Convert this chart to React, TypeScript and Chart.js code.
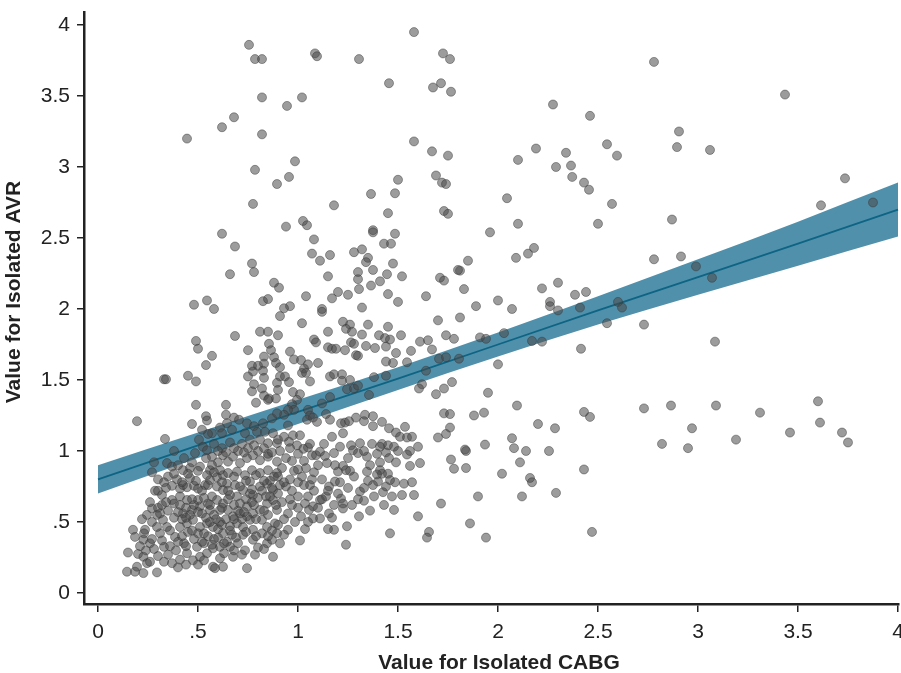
import React, { useEffect, useRef } from 'react';
import { Chart, registerables } from 'chart.js';

Chart.register(...registerables);

const xTickValues = [0, 0.5, 1, 1.5, 2, 2.5, 3, 3.5, 4];
const yTickValues = [0, 0.5, 1, 1.5, 2, 2.5, 3, 3.5, 4];
const xTitle = 'Value for Isolated CABG';
const yTitle = 'Value for Isolated AVR';

const fitX = [0, 0.5, 1, 1.5, 2, 2.5, 3, 3.5, 4];
const fitY = [0.8, 1.04, 1.275, 1.51, 1.75, 1.99, 2.225, 2.46, 2.7];
const ciUpper = [0.9, 1.13, 1.36, 1.59, 1.835, 2.09, 2.35, 2.615, 2.89];
const ciLower = [0.7, 0.95, 1.19, 1.43, 1.665, 1.89, 2.1, 2.305, 2.51];

const outlierPairs: number[][] = [
  [0.755, 3.86], [0.785, 3.76], [0.82, 3.76], [1.085, 3.8], [1.095, 3.78], [1.305, 3.76], [1.58, 3.95],
  [1.725, 3.8], [1.76, 3.76], [1.455, 3.59], [1.675, 3.56], [1.715, 3.59], [1.765, 3.53], [0.82, 3.49],
  [0.945, 3.43], [1.02, 3.49], [0.68, 3.35], [0.62, 3.28], [0.445, 3.2], [0.82, 3.23], [1.58, 3.18],
  [0.985, 3.04], [1.67, 3.11], [1.75, 3.08], [2.275, 3.44], [2.46, 3.36], [2.78, 3.74], [3.435, 3.51],
  [2.905, 3.25], [2.895, 3.14], [3.06, 3.12], [2.545, 3.16], [2.595, 3.08], [2.19, 3.13], [2.1, 3.05],
  [2.34, 3.1], [2.365, 3.01], [2.29, 3.0], [3.735, 2.92],
  [2.371, 2.93], [2.43, 2.89], [2.455, 2.84], [2.045, 2.78], [2.57, 2.74], [3.615, 2.73], [3.875, 2.75],
  [2.1, 2.6], [2.5, 2.6], [1.96, 2.54], [2.87, 2.63], [2.18, 2.43], [2.15, 2.39], [2.09, 2.36], [1.85, 2.34],
  [1.81, 2.27], [2.78, 2.35], [2.915, 2.37], [2.99, 2.3], [3.07, 2.22], [1.83, 2.14], [2.22, 2.145],
  [2.3, 2.185], [1.81, 1.94], [1.89, 2.02], [2.0, 2.06], [2.07, 2.0], [2.26, 2.05], [2.26, 2.02],
  [2.3, 1.99], [2.385, 2.1], [2.44, 2.12], [2.41, 2.01], [2.6, 2.05], [2.62, 2.01], [2.545, 1.9],
  [2.73, 1.89], [1.91, 1.8], [1.94, 1.79], [2.03, 1.83], [2.17, 1.775], [2.22, 1.77], [2.415, 1.72],
  [3.085, 1.77],
  [2.0, 1.61], [1.95, 1.41], [1.88, 1.25], [1.93, 1.27], [2.095, 1.32], [2.43, 1.275], [2.46, 1.24],
  [2.2, 1.19], [2.285, 1.16], [1.84, 1.0], [1.935, 1.045], [2.07, 1.09], [2.08, 1.02], [2.14, 1.0],
  [2.255, 1.0], [1.84, 0.88], [2.02, 0.84], [2.11, 0.92], [2.16, 0.81], [2.17, 0.78], [2.43, 0.87],
  [1.9, 0.68], [2.12, 0.68], [2.29, 0.705], [1.86, 0.49], [1.94, 0.39], [2.47, 0.43], [2.73, 1.3],
  [2.865, 1.32], [3.09, 1.32], [3.31, 1.27], [3.6, 1.35], [2.97, 1.16], [3.61, 1.2], [3.46, 1.13],
  [3.72, 1.13], [3.75, 1.06], [3.19, 1.08], [2.82, 1.05], [2.95, 1.02],
];

const upperMidPairs: number[][] = [
  [0.955, 2.93], [1.18, 2.73], [0.94, 2.58], [1.025, 2.62], [1.045, 2.59], [1.08, 2.49], [1.07, 2.39],
  [1.11, 2.34], [1.16, 2.38], [1.365, 2.81], [1.5, 2.91], [1.485, 2.815], [1.45, 2.675], [1.375, 2.555],
  [1.375, 2.54], [1.485, 2.53], [1.43, 2.46], [1.465, 2.46], [1.28, 2.4], [1.32, 2.42], [1.35, 2.36],
  [1.34, 2.33], [1.475, 2.32], [1.375, 2.275], [1.15, 2.23], [1.3, 2.26], [1.3, 2.21], [1.445, 2.245],
  [1.52, 2.23], [1.41, 2.195], [1.365, 2.165], [1.305, 2.14], [1.25, 2.1], [1.2, 2.12], [1.17, 2.075],
  [1.45, 2.105], [1.04, 2.09], [0.88, 2.185], [0.905, 2.15], [0.96, 2.02], [1.12, 2.0], [1.32, 2.01],
  [1.5, 2.05], [1.69, 2.94], [1.72, 2.89], [1.74, 2.88], [1.73, 2.69], [1.75, 2.67], [1.8, 2.275],
  [1.71, 2.22], [1.73, 2.2], [1.64, 2.09],
  [0.775, 2.74], [0.62, 2.53], [0.685, 2.44], [0.77, 2.32], [0.78, 2.26], [0.66, 2.245], [0.48, 2.03],
  [0.545, 2.06], [0.58, 2.0], [0.825, 2.055], [0.85, 2.07], [0.93, 2.005], [0.91, 1.95], [0.685, 1.81],
  [0.81, 1.84], [0.85, 1.84], [0.9, 1.815], [0.49, 1.775], [0.5, 1.72], [0.57, 1.67], [0.54, 1.605],
  [0.75, 1.71], [0.855, 1.755], [0.865, 1.71], [0.83, 1.665], [0.88, 1.66], [0.89, 1.62], [0.77, 1.6],
  [0.8, 1.6], [0.83, 1.615], [0.775, 1.56], [0.825, 1.565], [0.83, 1.515], [0.75, 1.525], [0.33, 1.505],
  [0.34, 1.505], [0.45, 1.53], [0.49, 1.49], [0.91, 1.525], [0.895, 1.48], [0.9, 1.43], [0.78, 1.47],
  [0.77, 1.42], [0.82, 1.44], [0.83, 1.39], [0.855, 1.37], [0.89, 1.37], [0.49, 1.325], [0.64, 1.325],
  [0.79, 1.34], [0.785, 2.98], [0.895, 2.88],
];

const middlePairs: number[][] = [
  [1.12, 1.98], [1.02, 1.9], [1.225, 1.91], [1.26, 1.89], [1.24, 1.86], [1.27, 1.84], [1.35, 1.89],
  [1.45, 1.875], [1.7, 1.92], [1.15, 1.84], [1.15, 1.73], [1.17, 1.72], [1.19, 1.72], [1.08, 1.785],
  [1.09, 1.765], [1.32, 1.82], [1.265, 1.765], [1.28, 1.755], [1.405, 1.815], [1.435, 1.795], [1.46, 1.785],
  [1.515, 1.815], [1.61, 1.77], [1.65, 1.78], [1.74, 1.815], [1.78, 1.79], [1.34, 1.74], [1.385, 1.725],
  [1.44, 1.735], [1.49, 1.69], [1.565, 1.705], [1.67, 1.715], [0.96, 1.7], [0.98, 1.645], [1.015, 1.64],
  [1.05, 1.61], [1.03, 1.58], [1.02, 1.55], [1.1, 1.62], [1.235, 1.71], [1.29, 1.675], [1.3, 1.67],
  [1.475, 1.62], [1.44, 1.63], [1.545, 1.625], [1.64, 1.565], [1.705, 1.65], [1.74, 1.66], [1.805, 1.65],
  [0.91, 1.59], [0.935, 1.525], [0.955, 1.485], [1.04, 1.55], [1.06, 1.49], [1.16, 1.525], [1.18, 1.54],
  [1.22, 1.54], [1.22, 1.495], [1.26, 1.5], [1.245, 1.435], [1.38, 1.52], [1.44, 1.53], [1.355, 1.395],
  [1.28, 1.44], [1.3, 1.46], [1.62, 1.47], [1.605, 1.44], [1.69, 1.4], [1.73, 1.44], [1.77, 1.485],
  [0.975, 1.415], [1.01, 1.4], [0.995, 1.36], [0.97, 1.33], [0.98, 1.29], [0.95, 1.29], [0.93, 1.255],
  [1.05, 1.29], [1.06, 1.25], [1.045, 1.22], [1.075, 1.235], [1.095, 1.205], [1.12, 1.335], [1.16, 1.38],
  [1.14, 1.26], [1.16, 1.22], [1.215, 1.195], [1.235, 1.2], [1.255, 1.21], [1.29, 1.235], [1.335, 1.255],
  [1.375, 1.245], [1.42, 1.205], [1.225, 1.125], [1.33, 1.21], [1.375, 1.175], [1.455, 1.16], [1.49, 1.13],
  [1.51, 1.1], [1.535, 1.17], [1.545, 1.095], [1.57, 1.1], [1.45, 1.04], [1.48, 1.03], [1.42, 1.05],
  [1.41, 1.03], [1.5, 1.0], [1.56, 1.0], [1.6, 1.03], [1.7, 1.095], [1.74, 1.12], [1.76, 1.165],
  [1.73, 1.265], [1.76, 1.26], [1.835, 1.01], [1.765, 0.94], [1.78, 0.875],
  [0.95, 1.18], [0.975, 1.11], [1.01, 1.11], [0.955, 1.065], [0.995, 1.04], [1.027, 1.015], [1.05, 1.025],
  [1.07, 0.97], [1.09, 0.97], [1.11, 0.995], [1.135, 0.965], [1.18, 0.985], [1.145, 0.915], [1.185, 0.9],
  [1.225, 0.895], [1.26, 0.86], [1.265, 1.04], [1.275, 1.005], [1.31, 1.055], [1.3, 0.985], [1.345, 0.96],
  [1.36, 0.9], [1.395, 0.98], [1.41, 0.92], [1.44, 0.99], [1.455, 0.95], [1.545, 0.975], [1.56, 0.895],
  [1.61, 0.915], [1.49, 0.92], [1.345, 0.855], [1.41, 0.865], [1.45, 0.84], [1.485, 0.78], [1.53, 0.77],
  [1.57, 0.78], [1.52, 0.69], [1.58, 0.69], [1.6, 0.54], [1.48, 0.585], [1.46, 0.42], [1.655, 0.43],
  [1.645, 0.39], [1.715, 0.63],
  [1.215, 0.665], [1.225, 0.63], [1.31, 0.715], [1.33, 0.74], [1.35, 0.79], [1.375, 0.76], [1.4, 0.785],
  [1.425, 0.71], [1.42, 0.84], [1.395, 0.835], [1.44, 0.75], [1.46, 0.795], [1.155, 0.75], [1.185, 0.785],
  [1.25, 0.74], [1.2, 0.855], [1.24, 0.865], [1.3, 0.66], [1.225, 0.595], [1.245, 0.47], [1.18, 0.445],
  [1.15, 0.45], [1.305, 0.54], [1.155, 0.56], [1.11, 0.655], [1.075, 0.61], [1.11, 0.525], [1.035, 0.63],
  [1.055, 0.585], [1.075, 0.525], [1.015, 0.54], [0.985, 0.5], [1.24, 0.34], [1.01, 0.37], [1.035, 0.45],
  [0.95, 0.445], [0.93, 0.41],
  [1.1, 0.6], [1.14, 0.68], [1.17, 0.53], [1.21, 0.78], [1.27, 0.62], [1.28, 0.82], [1.33, 0.65],
  [1.36, 0.58], [1.38, 0.68], [1.43, 0.62], [1.47, 0.68], [1.05, 0.5], [1.0, 0.6],
  [1.13, 1.05], [1.17, 1.1], [1.21, 1.03], [1.25, 0.95], [1.33, 1.0], [1.37, 1.05],
];

const clusterPairs: number[][] = [
  [0.195, 1.21], [0.335, 1.085], [0.28, 0.92], [0.85, 1.36], [0.47, 1.19], [0.54, 1.245], [0.545, 1.215],
  [0.64, 1.255], [0.68, 1.235], [0.705, 1.22], [0.645, 1.195], [0.67, 1.15], [0.61, 1.165], [0.57, 1.125],
  [0.62, 1.125], [0.745, 1.195], [0.78, 1.175], [0.825, 1.195], [0.87, 1.23], [0.895, 1.265], [0.795, 1.135],
  [0.835, 1.135], [0.875, 1.125], [0.735, 1.125], [0.76, 1.08], [0.81, 1.08], [0.85, 1.055], [0.895, 1.055],
  [0.505, 1.08], [0.525, 1.03], [0.485, 0.985], [0.545, 1.005], [0.57, 0.96], [0.345, 0.915], [0.37, 0.89],
  [0.425, 0.865], [0.46, 0.88], [0.395, 0.8], [0.37, 0.755], [0.41, 0.735], [0.445, 0.745], [0.48, 0.755],
  [0.5, 0.735], [0.535, 0.76], [0.56, 0.795], [0.595, 0.815], [0.625, 0.83], [0.285, 0.72], [0.32, 0.69],
  [0.41, 0.68], [0.37, 0.655], [0.445, 0.655], [0.27, 0.595], [0.295, 0.55], [0.245, 0.55], [0.27, 0.5],
  [0.325, 0.515], [0.235, 0.445], [0.175, 0.445], [0.185, 0.395], [0.227, 0.375], [0.26, 0.35], [0.31, 0.42],
  [0.295, 0.465], [0.345, 0.465], [0.15, 0.285], [0.2, 0.275], [0.227, 0.255], [0.245, 0.21], [0.195, 0.185],
  [0.145, 0.15], [0.185, 0.15], [0.227, 0.14], [0.295, 0.145], [0.35, 0.27], [0.33, 0.325], [0.37, 0.21],
  [0.41, 0.235], [0.445, 0.28], [0.43, 0.35], [0.385, 0.395], [0.475, 0.23], [0.51, 0.255], [0.545, 0.28],
  [0.495, 0.325], [0.53, 0.35], [0.575, 0.315], [0.61, 0.325], [0.645, 0.36], [0.575, 0.185], [0.625, 0.185],
  [0.745, 0.175],
  [0.41, 0.465], [0.445, 0.49], [0.475, 0.515], [0.51, 0.465], [0.545, 0.49], [0.575, 0.465], [0.425, 0.56],
  [0.47, 0.585], [0.51, 0.61], [0.55, 0.63], [0.595, 0.655], [0.625, 0.63], [0.65, 0.585], [0.675, 0.54],
  [0.695, 0.49], [0.725, 0.465], [0.76, 0.515], [0.775, 0.56], [0.81, 0.585], [0.845, 0.63], [0.875, 0.655],
  [0.695, 0.68], [0.725, 0.725], [0.775, 0.69], [0.81, 0.75], [0.845, 0.77], [0.875, 0.725], [0.91, 0.76],
  [0.885, 0.49], [0.845, 0.465], [0.82, 0.42], [0.775, 0.375], [0.725, 0.41], [0.7, 0.35], [0.67, 0.41],
  [0.625, 0.42], [0.61, 0.5],
  [0.625, 0.97], [0.65, 0.925], [0.675, 0.96], [0.71, 0.915], [0.745, 0.95], [0.775, 0.97], [0.81, 0.935],
  [0.85, 0.96], [0.895, 0.925], [0.61, 0.865], [0.65, 0.845], [0.695, 0.855], [0.735, 0.83], [0.77, 0.865],
  [0.81, 0.845], [0.85, 0.865], [0.895, 0.845], [0.645, 0.77], [0.685, 0.76], [0.76, 0.785], [0.51, 0.89],
  [0.56, 0.865], [0.545, 0.83], [0.595, 0.75], [0.46, 0.81], [0.425, 0.76], [0.625, 0.725], [0.66, 0.69],
  [0.57, 0.68], [0.5, 0.655], [0.56, 0.585], [0.61, 0.585], [0.745, 0.61], [0.71, 0.56], [0.745, 0.54],
  [0.82, 0.515], [0.85, 0.55], [0.895, 0.585], [0.895, 0.42], [0.845, 0.35], [0.785, 0.27], [0.735, 0.3],
  [0.675, 0.255], [0.66, 0.325], [0.61, 0.245], [0.775, 0.445], [0.87, 0.375], [0.91, 0.35], [0.875, 0.255],
  [0.585, 0.175],
  [0.3, 0.6], [0.32, 0.62], [0.35, 0.58], [0.38, 0.63], [0.4, 0.57], [0.42, 0.52], [0.44, 0.6], [0.46, 0.55],
  [0.48, 0.62], [0.52, 0.56], [0.54, 0.53], [0.56, 0.5], [0.58, 0.55], [0.6, 0.45], [0.62, 0.48], [0.64, 0.52],
  [0.66, 0.47], [0.68, 0.62], [0.7, 0.58], [0.72, 0.52], [0.74, 0.66], [0.76, 0.7], [0.78, 0.62], [0.8, 0.67],
  [0.82, 0.72], [0.84, 0.68], [0.86, 0.79], [0.88, 0.82], [0.9, 0.7], [0.92, 0.64], [0.94, 0.75], [0.96, 0.8],
  [0.98, 0.86], [1.0, 0.78], [1.02, 0.82], [1.04, 0.88], [1.06, 0.76], [1.08, 0.85], [1.1, 0.9], [0.36, 0.33],
  [0.39, 0.3], [0.42, 0.4], [0.45, 0.43], [0.48, 0.38], [0.5, 0.42], [0.52, 0.36], [0.55, 0.4], [0.58, 0.38],
  [0.27, 0.38], [0.24, 0.3], [0.21, 0.33], [0.3, 0.26], [0.33, 0.22], [0.26, 0.22], [0.4, 0.18], [0.44, 0.2],
  [0.5, 0.2], [0.53, 0.23], [0.63, 0.28], [0.68, 0.3], [0.72, 0.27], [0.8, 0.32], [0.85, 0.4], [0.9, 0.48],
  [0.95, 0.56], [0.97, 0.62], [1.0, 0.68], [0.92, 0.88], [0.94, 0.95], [0.96, 1.02], [0.7, 1.0], [0.72, 1.05],
  [0.75, 1.02], [0.8, 1.0], [0.85, 0.98], [0.9, 1.08], [0.66, 1.06], [0.62, 1.02], [0.58, 1.05], [0.55, 1.12],
  [0.52, 1.15], [0.6, 0.92], [0.57, 0.9], [0.54, 0.95], [0.5, 0.86], [0.47, 0.92], [0.43, 0.95], [0.4, 0.9],
  [0.38, 1.0], [0.35, 0.82], [0.33, 0.78], [0.3, 0.8], [0.27, 0.85], [1.12, 0.8], [1.15, 0.72], [1.18, 0.62],
  [1.2, 0.7], [1.05, 0.68], [1.08, 0.72], [1.12, 0.66],
  [0.23, 0.42], [0.28, 0.31], [0.32, 0.37], [0.36, 0.44], [0.4, 0.36], [0.44, 0.33], [0.47, 0.44], [0.53, 0.42],
  [0.57, 0.34], [0.6, 0.39], [0.63, 0.35], [0.66, 0.44], [0.69, 0.39], [0.74, 0.43], [0.79, 0.4], [0.83, 0.31],
  [0.87, 0.44],
  [0.22, 0.52], [0.26, 0.64], [0.31, 0.56], [0.34, 0.64], [0.38, 0.53], [0.41, 0.62], [0.44, 0.53], [0.47, 0.66],
  [0.5, 0.57], [0.53, 0.67], [0.56, 0.62], [0.59, 0.52], [0.62, 0.6], [0.65, 0.66], [0.68, 0.52], [0.71, 0.63],
  [0.73, 0.57], [0.77, 0.64], [0.79, 0.52], [0.83, 0.58], [0.86, 0.68], [0.89, 0.62], [0.93, 0.52], [0.96, 0.66],
  [0.3, 0.72], [0.34, 0.74], [0.38, 0.84], [0.42, 0.78], [0.45, 0.84], [0.49, 0.79], [0.52, 0.72], [0.55, 0.76],
  [0.58, 0.85], [0.62, 0.78], [0.65, 0.72], [0.68, 0.82], [0.71, 0.75], [0.74, 0.79], [0.77, 0.73], [0.79, 0.83],
  [0.83, 0.79], [0.87, 0.74], [0.9, 0.82], [0.93, 0.78], [0.97, 0.72], [1.0, 0.87], [1.03, 0.76], [1.07, 0.8],
  [0.6, 1.0], [0.64, 0.99], [0.68, 1.02], [0.73, 0.99], [0.78, 1.04], [0.83, 1.02], [0.87, 0.99], [0.91, 1.0],
  [0.93, 1.1], [0.97, 0.93], [1.0, 0.98], [1.03, 0.93], [1.06, 1.05],
];

const allPairs = [...outlierPairs, ...upperMidPairs, ...middlePairs, ...clusterPairs];

const FONT = '"Liberation Sans", Arial, Helvetica, sans-serif';
const fmt = (v: number | string) => {
  const n = Number(v);
  if (n === 0) return '0';
  return String(n).replace(/^0\./, '.');
};

const axisTitlePlugin = {
  id: 'axisTitles',
  afterDraw(chart: any) {
    const ctx = chart.ctx;
    ctx.save();
    ctx.fillStyle = '#222';
    ctx.font = `bold 21px ${FONT}`;
    ctx.textAlign = 'center';
    ctx.textBaseline = 'middle';
    ctx.fillText(xTitle, 499, 663);
    ctx.translate(14, 292);
    ctx.rotate(-Math.PI / 2);
    ctx.fillText(yTitle, 0, 0);
    ctx.restore();
  },
};

export default function App() {
  const ref = useRef<HTMLCanvasElement | null>(null);
  useEffect(() => {
    document.body.style.margin = '0';
    const canvas = ref.current;
    if (!canvas) return;
    const chart = new Chart(canvas, {
      type: 'scatter',
      data: {
        datasets: [
          {
            type: 'line',
            data: fitX.map((x, i) => ({ x, y: ciUpper[i] })),
            borderWidth: 0,
            borderColor: 'rgba(0,0,0,0)',
            pointRadius: 0,
            fill: false,
            cubicInterpolationMode: 'monotone',
            order: 4,
          },
          {
            type: 'line',
            data: fitX.map((x, i) => ({ x, y: ciLower[i] })),
            borderWidth: 0,
            borderColor: 'rgba(0,0,0,0)',
            backgroundColor: '#5190aa',
            pointRadius: 0,
            fill: '-1',
            cubicInterpolationMode: 'monotone',
            order: 3,
          },
          {
            type: 'line',
            data: fitX.map((x, i) => ({ x, y: fitY[i] })),
            borderWidth: 1.8,
            borderColor: '#0d6484',
            pointRadius: 0,
            fill: false,
            order: 2,
          },
          {
            type: 'scatter',
            data: allPairs.map(([x, y]) => ({ x, y })),
            pointRadius: 4.5,
            backgroundColor: 'rgba(72,72,72,0.54)',
            borderColor: 'rgba(55,55,55,0.58)',
            borderWidth: 0.8,
            order: 1,
          },
        ],
      } as any,
      options: {
        animation: false,
        responsive: false,
        devicePixelRatio: 1,
        events: [],
        layout: { autoPadding: false, padding: { top: 12, right: 2, left: 0, bottom: 0 } },
        plugins: { legend: { display: false }, tooltip: { enabled: false } },
        scales: {
          x: {
            type: 'linear',
            min: -0.07,
            max: 4.005,
            afterBuildTicks: (s: any) => {
              s.ticks = xTickValues.map((v) => ({ value: v }));
            },
            afterFit: (s: any) => {
              s.height = 69;
              s.paddingLeft = 0;
              s.paddingRight = 0;
            },
            grid: { drawOnChartArea: false, drawTicks: true, tickLength: 8, color: '#222', lineWidth: 1.5 },
            border: { display: true, color: '#222', width: 2.5 },
            ticks: {
              callback: fmt,
              font: { family: FONT, size: 21 },
              color: '#222',
              padding: 8,
              maxRotation: 0,
              autoSkip: false,
            },
            title: { display: false },
          },
          y: {
            type: 'linear',
            min: -0.0775,
            max: 4.0915,
            afterBuildTicks: (s: any) => {
              s.ticks = yTickValues.map((v) => ({ value: v }));
            },
            afterFit: (s: any) => {
              s.width = 84;
              s.paddingTop = 0;
              s.paddingBottom = 0;
            },
            grid: { drawOnChartArea: false, drawTicks: true, tickLength: 7, color: '#222', lineWidth: 1.5 },
            border: { display: true, color: '#222', width: 2.5 },
            ticks: {
              callback: fmt,
              font: { family: FONT, size: 21 },
              color: '#222',
              padding: 7,
              autoSkip: false,
            },
            title: { display: false },
          },
        },
      } as any,
      plugins: [axisTitlePlugin],
    });
    return () => chart.destroy();
  }, []);
  return (
    <div style={{ width: 901, height: 673 }}>
      <canvas ref={ref} width={901} height={673} style={{ display: 'block' }} />
    </div>
  );
}
